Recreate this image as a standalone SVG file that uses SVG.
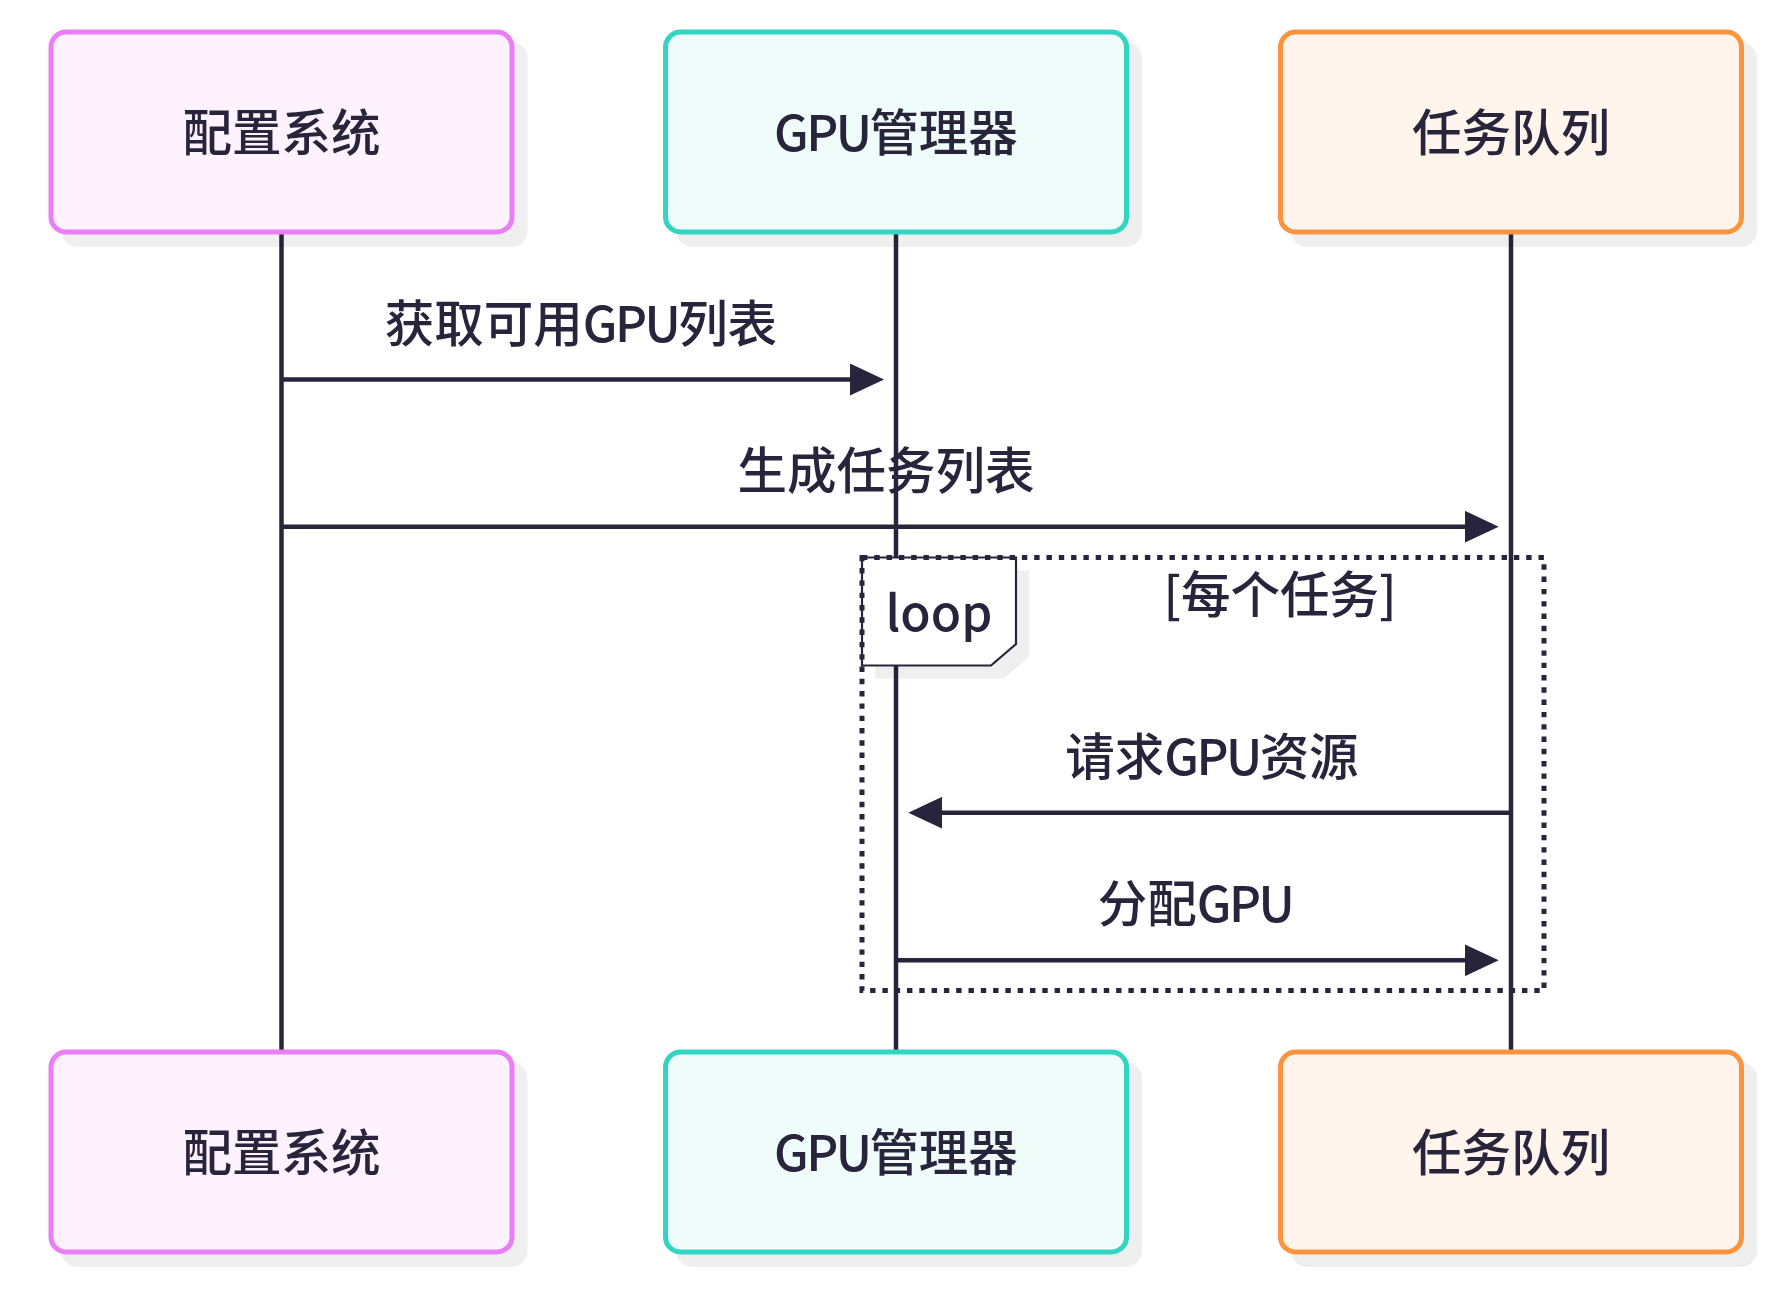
<svg xmlns="http://www.w3.org/2000/svg" width="1792" height="1302" viewBox="0 0 1792 1302">
<style>
text{font-family:"Noto Sans CJK SC","Noto Sans",sans-serif;fill:#28243b;font-size:49.5px;font-weight:500;text-anchor:middle}
.g{letter-spacing:-2.6px}
.shadow{fill:#000;fill-opacity:0.063}
.actor{stroke-width:5}
.a1{fill:#fdf2fe;stroke:#e97ef6}
.a2{fill:#effcf9;stroke:#32d5c1}
.a3{fill:#fff5ec;stroke:#fb943f}
.life{stroke:#28243b;stroke-width:4.5}
.msg{stroke:#28243b;stroke-width:4.5;fill:none}
.loopline{fill:none;stroke:#28243b;stroke-width:5;stroke-dasharray:5.4 6.9}
.looplabel{fill:#fff;stroke:#28243b;stroke-width:2.2}
</style>
<defs>
<marker id="arrow" viewBox="0 0 34 32" refX="24" refY="16" markerWidth="34" markerHeight="32" markerUnits="userSpaceOnUse" orient="auto">
<path d="M0,0 L34,16 L0,32 z" fill="#28243b"/>
</marker>
</defs>

<g id="lifelines">
<line class="life" x1="281.5" y1="232" x2="281.5" y2="1052"/>
<line class="life" x1="896" y1="232" x2="896" y2="1052"/>
<line class="life" x1="1511" y1="232" x2="1511" y2="1052"/>
</g>

<g id="actor-config-top">
<rect class="shadow" x="61.5" y="42" width="466" height="205" rx="16"/>
<rect class="actor a1" x="51" y="32" width="461" height="200" rx="15"/>
<text x="281.5" y="151">配置系统</text>
</g>
<g id="actor-gpu-top">
<rect class="shadow" x="676" y="42" width="466" height="205" rx="16"/>
<rect class="actor a2" x="665.5" y="32" width="461" height="200" rx="15"/>
<text x="896" y="151"><tspan class="g">GPU</tspan>管理器</text>
</g>
<g id="actor-queue-top">
<rect class="shadow" x="1291" y="42" width="466" height="205" rx="16"/>
<rect class="actor a3" x="1280.5" y="32" width="461" height="200" rx="15"/>
<text x="1511" y="151">任务队列</text>
</g>

<g id="actor-config-bottom">
<rect class="shadow" x="61.5" y="1062" width="466" height="205" rx="16"/>
<rect class="actor a1" x="51" y="1052" width="461" height="200" rx="15"/>
<text x="281.5" y="1171">配置系统</text>
</g>
<g id="actor-gpu-bottom">
<rect class="shadow" x="676" y="1062" width="466" height="205" rx="16"/>
<rect class="actor a2" x="665.5" y="1052" width="461" height="200" rx="15"/>
<text x="896" y="1171"><tspan class="g">GPU</tspan>管理器</text>
</g>
<g id="actor-queue-bottom">
<rect class="shadow" x="1291" y="1062" width="466" height="205" rx="16"/>
<rect class="actor a3" x="1280.5" y="1052" width="461" height="200" rx="15"/>
<text x="1511" y="1171">任务队列</text>
</g>

<g id="loop">
<polygon class="shadow" points="875,570.5 1029,570.5 1029,657 1004,678.5 875,678.5"/>
<polygon class="looplabel" points="862,557.5 1016,557.5 1016,644 991,665.5 862,665.5"/>
<rect class="loopline" x="862" y="557.5" width="682" height="433"/>
<text x="939" y="631">loop</text>
<text x="1280" y="613">[每个任务]</text>
</g>

<g id="connectors">
<line class="msg" x1="281.5" y1="379.5" x2="874" y2="379.5" marker-end="url(#arrow)"/>
<line class="msg" x1="281.5" y1="526.7" x2="1488.7" y2="526.7" marker-end="url(#arrow)"/>
<line class="msg" x1="1511" y1="812.7" x2="918.3" y2="812.7" marker-end="url(#arrow)"/>
<line class="msg" x1="896" y1="960.3" x2="1488.7" y2="960.3" marker-end="url(#arrow)"/>
</g>

<g id="labels">
<text x="581" y="341.5">获取可用<tspan class="g">GPU</tspan>列表</text>
<text x="886" y="488.7">生成任务列表</text>
<text x="1212" y="774.7">请求<tspan class="g">GPU</tspan>资源</text>
<text x="1195" y="922.3">分配<tspan class="g">GPU</tspan></text>
</g>
</svg>
